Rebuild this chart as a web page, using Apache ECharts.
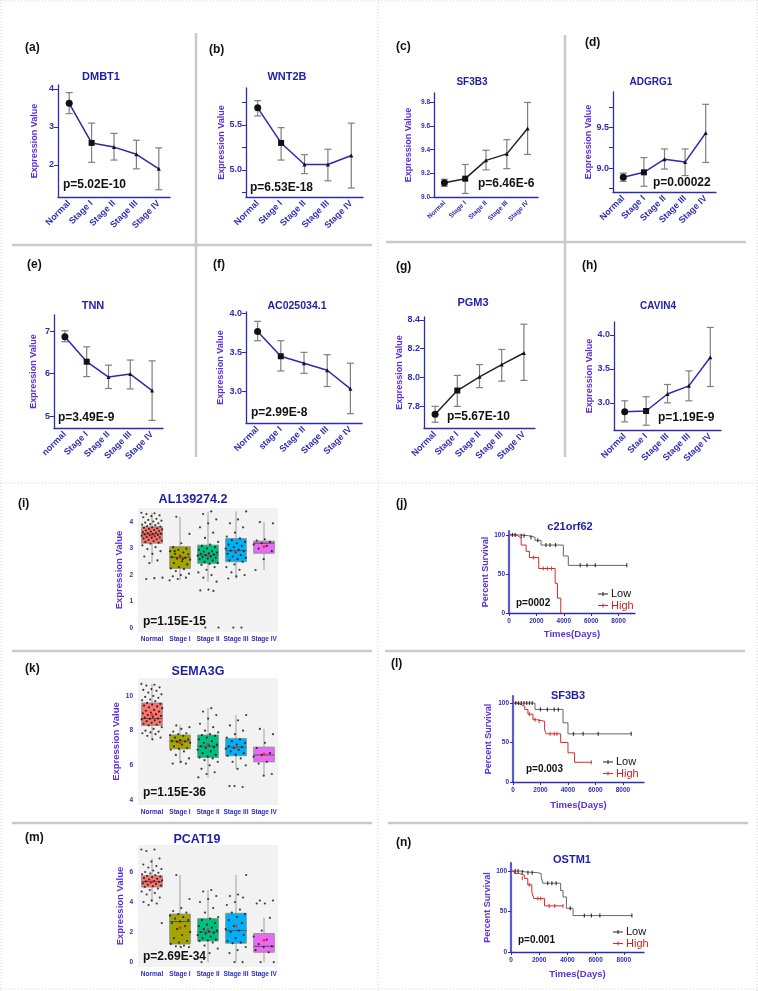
<!DOCTYPE html>
<html>
<head>
<meta charset="utf-8">
<script src="https://cdn.jsdelivr.net/npm/echarts@6/dist/echarts.min.js"></script>
<style>
  html, body { margin: 0; padding: 0; background: #fff; }
  #chart { width: 758px; height: 991px; }
</style>
</head>
<body>
<div id="chart"></div>
<script>
// ---- categories ----
var stageCats = ["Normal", "Stage I", "Stage II", "Stage III", "Stage IV"];
var tnnCats = ["normal", "Stage I", "Stage II", "Stage III", "Stage IV"];
var ac0Cats = ["Normal", "stage I", "Stage II", "Stage III", "Stage IV"];
var cavinCats = ["Normal", "Stae I", "Stage III", "Stage III", "Stage IV"];

// ---- line panels: mean, lower and upper error bar ----
var dmbt1Mean = [3.62, 2.58, 2.47, 2.28, 1.90];
var dmbt1Lo = [3.35, 2.07, 2.13, 1.90, 1.35];
var dmbt1Hi = [3.90, 3.10, 2.83, 2.65, 2.45];

var wnt2bMean = [5.69, 5.30, 5.06, 5.06, 5.16];
var wnt2bLo = [5.60, 5.11, 4.96, 4.88, 4.80];
var wnt2bHi = [5.77, 5.47, 5.17, 5.23, 5.52];

var sf3b3Mean = [9.12, 9.155, 9.31, 9.365, 9.58];
var sf3b3Lo = [9.09, 9.03, 9.23, 9.24, 9.36];
var sf3b3Hi = [9.15, 9.275, 9.395, 9.485, 9.80];

var adgrg1Mean = [8.89, 8.95, 9.11, 9.075, 9.43];
var adgrg1Lo = [8.84, 8.78, 8.99, 8.91, 9.07];
var adgrg1Hi = [8.94, 9.13, 9.235, 9.235, 9.78];

var tnnMean = [6.87, 6.28, 5.92, 5.99, 5.60];
var tnnLo = [6.75, 5.93, 5.65, 5.64, 4.90];
var tnnHi = [7.01, 6.63, 6.20, 6.32, 6.30];

var ac0Mean = [3.77, 3.45, 3.36, 3.27, 3.03];
var ac0Lo = [3.65, 3.26, 3.23, 3.06, 2.71];
var ac0Hi = [3.90, 3.65, 3.50, 3.47, 3.36];

var pgm3Mean = [7.745, 7.91, 8.005, 8.09, 8.17];
var pgm3Lo = [7.69, 7.80, 7.93, 7.975, 7.98];
var pgm3Hi = [7.80, 8.015, 8.09, 8.195, 8.37];

var cavin4Mean = [2.87, 2.88, 3.13, 3.25, 3.67];
var cavin4Lo = [2.72, 2.67, 3.00, 3.03, 3.24];
var cavin4Hi = [3.03, 3.09, 3.27, 3.47, 4.11];

// ---- box panels: [min, q1, median, q3, max], means, points ----
var al1Boxes = [[2.45, 3.2, 3.55, 3.82, 4.35], [1.8, 2.25, 2.67, 3.07, 4.2], [1.75, 2.44, 2.75, 3.13, 4.4], [1.87, 2.5, 2.92, 3.38, 4.4], [2.19, 2.82, 3.2, 3.28, 4.0]];
var al1Means = [3.5, 2.65, 2.72, 2.9, 3.08];
var al1Normal = [4.35, 4.33, 4.3, 4.25, 4.22, 4.18, 4.12, 4.08, 4.05, 4.02, 3.98, 3.95, 3.92, 3.9, 3.88, 3.85, 3.83, 3.8, 3.78, 3.76, 3.74, 3.72, 3.7, 3.68, 3.66, 3.64, 3.62, 3.6, 3.58, 3.56, 3.55, 3.53, 3.51, 3.5, 3.48, 3.46, 3.44, 3.42, 3.4, 3.38, 3.35, 3.33, 3.3, 3.28, 3.25, 3.22, 3.18, 3.12, 3.05, 2.98, 2.9, 2.8, 2.7, 2.55, 2.45, 1.9, 1.88, 1.85];
var al1S1 = [4.2, 3.55, 3.2, 3.05, 3.0, 2.95, 2.9, 2.85, 2.8, 2.78, 2.72, 2.68, 2.65, 2.62, 2.58, 2.52, 2.45, 2.4, 2.3, 2.25, 2.22, 2.15, 2.05, 2.0, 1.95, 1.9, 1.85, 1.8, 2.6, 2.9];
var al1S2 = [4.4, 4.3, 4.1, 3.95, 3.8, 3.6, 3.4, 3.25, 3.15, 3.1, 3.05, 3.0, 2.95, 2.9, 2.88, 2.85, 2.82, 2.8, 2.78, 2.75, 2.73, 2.7, 2.68, 2.65, 2.62, 2.6, 2.55, 2.5, 2.45, 2.42, 2.38, 2.3, 2.2, 2.1, 2.0, 1.9, 1.75, 1.45, 1.42, 1.4, 0.02, 0.02];
var al1S3 = [4.4, 4.1, 3.95, 3.8, 3.6, 3.45, 3.38, 3.32, 3.25, 3.2, 3.15, 3.1, 3.05, 3.0, 2.95, 2.92, 2.9, 2.85, 2.8, 2.75, 2.7, 2.65, 2.6, 2.55, 2.5, 2.4, 2.3, 2.2, 2.1, 2.0, 1.95, 1.87, 0.02, 0.02];
var al1S4 = [4.0, 3.95, 3.35, 3.3, 3.25, 3.2, 3.15, 3.1, 3.0, 2.9, 2.6, 2.19];

var semaBoxes = [[7.5, 8.3, 8.7, 9.6, 10.7], [6.1, 6.95, 7.4, 7.75, 8.3], [5.3, 6.45, 7.1, 7.75, 9.3], [5.8, 6.55, 7.05, 7.55, 8.9], [5.4, 6.2, 6.6, 7.05, 8.1]];
var semaMeans = [8.9, 7.3, 7.2, 7.05, 6.65];
var semaNormal = [10.7, 10.65, 10.6, 10.5, 10.4, 10.35, 10.3, 10.2, 10.1, 10.0, 9.95, 9.9, 9.8, 9.75, 9.7, 9.6, 9.55, 9.5, 9.45, 9.4, 9.35, 9.3, 9.2, 9.15, 9.1, 9.05, 9.0, 8.95, 8.9, 8.85, 8.8, 8.75, 8.7, 8.68, 8.65, 8.6, 8.55, 8.5, 8.45, 8.4, 8.35, 8.3, 8.2, 8.1, 8.0, 7.95, 7.9, 7.85, 7.8, 7.7, 7.6, 7.5];
var semaS1 = [8.3, 8.2, 8.1, 7.95, 7.85, 7.8, 7.75, 7.7, 7.6, 7.5, 7.45, 7.4, 7.38, 7.35, 7.3, 7.2, 7.1, 7.0, 6.95, 6.9, 6.8, 6.6, 6.4, 6.2, 6.1, 6.1];
var semaS2 = [9.3, 9.1, 8.9, 8.7, 8.4, 8.2, 8.0, 7.9, 7.8, 7.75, 7.7, 7.6, 7.5, 7.4, 7.3, 7.2, 7.15, 7.1, 7.05, 7.0, 6.9, 6.8, 6.7, 6.6, 6.5, 6.45, 6.4, 6.3, 6.2, 6.0, 5.8, 5.6, 5.5, 5.3];
var semaS3 = [8.9, 8.6, 8.3, 8.0, 7.8, 7.6, 7.5, 7.4, 7.3, 7.2, 7.1, 7.05, 7.0, 6.95, 6.9, 6.8, 6.7, 6.6, 6.55, 6.4, 6.2, 6.0, 5.8, 4.8, 4.75, 4.8];
var semaS4 = [8.1, 7.8, 7.3, 7.0, 6.7, 6.6, 6.5, 6.2, 6.1, 5.5, 5.4];

var pcatBoxes = [[4.0, 5.0, 5.35, 5.75, 6.9], [1.0, 1.2, 2.7, 3.2, 5.8], [0, 1.4, 2.0, 2.9, 4.8], [0, 1.25, 2.1, 3.25, 5.8], [0, 0.65, 1.05, 1.9, 2.95]];
var pcatMeans = [5.35, 2.3, 2.15, 2.4, 1.45];
var pcatNormal = [7.5, 7.5, 7.4, 6.9, 6.7, 6.5, 6.4, 6.3, 6.2, 6.1, 6.0, 5.95, 5.9, 5.85, 5.8, 5.75, 5.7, 5.65, 5.6, 5.55, 5.5, 5.45, 5.4, 5.38, 5.35, 5.3, 5.25, 5.2, 5.15, 5.1, 5.05, 5.0, 4.9, 4.8, 4.7, 4.6, 4.5, 4.3, 4.1, 4.0, 3.9, 3.8, 2.6];
var pcatS1 = [5.8, 4.2, 3.6, 3.4, 3.3, 3.2, 3.1, 3.0, 2.9, 2.8, 2.7, 2.6, 2.4, 2.2, 2.0, 1.8, 1.6, 1.4, 1.3, 1.2, 1.1, 1.05, 1.0, 1.0];
var pcatS2 = [4.8, 4.7, 4.4, 4.2, 4.0, 3.6, 3.3, 3.0, 2.9, 2.8, 2.6, 2.5, 2.4, 2.3, 2.2, 2.1, 2.05, 2.0, 1.95, 1.9, 1.8, 1.7, 1.6, 1.5, 1.45, 1.4, 1.3, 1.1, 0.9, 0.6, 0.0];
var pcatS3 = [5.8, 4.5, 4.4, 4.3, 4.0, 3.8, 3.5, 3.3, 3.2, 3.0, 2.8, 2.6, 2.4, 2.2, 2.1, 2.0, 1.8, 1.6, 1.4, 1.3, 1.25, 1.0, 0.8, 0.6, 0.0, 0.0];
var pcatS4 = [4.1, 4.1, 3.9, 3.9, 2.95, 2.1, 1.7, 1.5, 1.2, 1.05, 1.0, 0.8, 0.65, 0.0, 0.0];

// ---- survival curves: [days, percent] at each step ----
var c21Low = [[0, 100], [700, 99], [1400, 97], [1900, 93], [2340, 87], [3970, 73], [4330, 61], [8600, 61]];
var c21High = [[0, 100], [500, 98], [720, 96], [890, 87], [1250, 79], [1490, 71], [2170, 57], [3370, 38], [3540, 19], [3780, 0]];
var c21LowCens = [[250, 100], [450, 100], [900, 99], [1100, 99], [1600, 97], [2100, 93], [2700, 87], [3000, 87], [3400, 87], [5200, 61], [5700, 61], [6300, 61], [8600, 61]];
var c21HighCens = [[1800, 71], [2500, 57], [2800, 57], [3100, 57]];

var sf3Low = [[0, 100], [1600, 92], [3640, 75], [4000, 61], [8600, 61]];
var sf3High = [[0, 100], [360, 98], [600, 96], [850, 92], [1090, 86], [1450, 79], [1700, 77], [2300, 66], [2420, 61], [3470, 50], [4000, 37], [4480, 25], [5700, 25]];
var sf3LowCens = [[200, 100], [400, 100], [600, 100], [800, 100], [1000, 100], [1200, 100], [1400, 100], [2000, 92], [2500, 92], [3000, 92], [3300, 92], [4400, 61], [5100, 61], [6200, 61], [8600, 61]];
var sf3HighCens = [[1200, 86], [1600, 79], [1900, 77], [2700, 61], [3000, 61], [3200, 61], [5700, 25]];

var ostLow = [[0, 100], [700, 99], [1000, 98], [1900, 97], [2140, 93], [2260, 85], [3520, 76], [3690, 68], [3930, 54], [4400, 45], [8570, 45]];
var ostHigh = [[0, 100], [240, 97], [600, 95], [950, 91], [1190, 83], [1480, 74], [1620, 66], [2380, 57], [3690, 57]];
var ostLowCens = [[300, 100], [500, 100], [800, 99], [1200, 98], [1500, 98], [2600, 85], [2900, 85], [3200, 85], [4200, 54], [5200, 45], [5700, 45], [6300, 45], [8570, 45]];
var ostHighCens = [[800, 91], [1300, 83], [1900, 66], [2100, 66], [2700, 57], [3100, 57], [3690, 57]];

var FONT = 'Arial, "Liberation Sans", sans-serif';
var TITLE_C = "#1e1ea8", TICK_C = "#2e2eb4", NAME_C = "#5a30d8", AXIS_C = "#2c2cb0";
var BOX_COLORS = ["#F8766D", "#A3A500", "#00BF7D", "#00B0F6", "#E76BF3"];

var grids = [], xAxes = [], yAxes = [], series = [], graphic = [];

function text(x, y, s, font, fill, align) {
    graphic.push({ type: "text", x: x, y: y, silent: true, z: 10,
        style: { text: s, font: font, fill: fill || "#111", textAlign: align || "left", textVerticalAlign: "middle" } });
}
function seg(x1, y1, x2, y2, color, w, dash) {
    graphic.push({ type: "line", silent: true, z: 0,
        shape: { x1: x1, y1: y1, x2: x2, y2: y2 },
        style: { stroke: color, lineWidth: w, lineDash: dash || null } });
}
function addGrid(r, extra) {
    grids.push(Object.assign({ left: r[0], top: r[1], width: r[2] - r[0], height: r[3] - r[1] }, extra || {}));
    return grids.length - 1;
}

function errRender(params, api) {
    var x = api.value(0);
    var a = api.coord([x, api.value(1)]);
    var b = api.coord([x, api.value(2)]);
    var w = 3.5, st = { stroke: "#7f7f7f", lineWidth: 1.2 };
    return { type: "group", children: [
        { type: "line", shape: { x1: a[0], y1: a[1], x2: b[0], y2: b[1] }, style: st },
        { type: "line", shape: { x1: a[0] - w, y1: a[1], x2: a[0] + w, y2: a[1] }, style: st },
        { type: "line", shape: { x1: b[0] - w, y1: b[1], x2: b[0] + w, y2: b[1] }, style: st }
    ] };
}

function linePanel(p) {
    var gi = addGrid(p.rect);
    var fs = p.fs || 9;
    xAxes.push({ type: "category", gridIndex: gi, data: p.cats, boundaryGap: true,
        axisLine: { onZero: false, lineStyle: { color: AXIS_C, width: 1.3 } },
        axisTick: { alignWithLabel: true, length: 4, lineStyle: { color: AXIS_C } },
        axisLabel: { rotate: 45, interval: 0, color: TICK_C, fontWeight: "bold", fontSize: fs, fontFamily: FONT, margin: 5 },
        splitLine: { show: false } });
    var xi = xAxes.length - 1;
    yAxes.push({ type: "value", gridIndex: gi, min: p.yMin, max: p.yMax,
        axisLine: { show: true, onZero: false, lineStyle: { color: AXIS_C, width: 1.3 } },
        axisTick: { show: true, length: 4, customValues: p.ticks, lineStyle: { color: AXIS_C } },
        axisLabel: { customValues: p.labels || p.ticks, formatter: function (v) { return (+v).toFixed(p.dec); },
            color: TICK_C, fontWeight: "bold", fontSize: fs, fontFamily: FONT, margin: 4 },
        splitLine: { show: false },
        name: "Expression Value", nameLocation: "middle", nameGap: p.nameGap,
        nameTextStyle: { color: NAME_C, fontWeight: "bold", fontSize: 9, fontFamily: FONT } });
    var yi = yAxes.length - 1;
    series.push({ type: "custom", xAxisIndex: xi, yAxisIndex: yi, silent: true, z: 2,
        data: p.lo.map(function (l, i) { return [i, l, p.hi[i]]; }), renderItem: errRender });
    series.push({ type: "line", xAxisIndex: xi, yAxisIndex: yi, silent: true, z: 3,
        data: p.mean.map(function (v, i) {
            return { value: v, symbol: i === 0 ? "circle" : (i === 1 ? "rect" : "triangle"), symbolSize: i === 0 ? 7 : (i === 1 ? 6 : 4) };
        }),
        lineStyle: { color: p.color, width: 1.5 }, itemStyle: { color: "#111" } });
    text(p.title[0], p.title[1], p.name, "bold " + p.tfs + "px " + FONT, TITLE_C, "center");
    text(p.tag[0], p.tag[1], p.tag[2], "bold 12px " + FONT, "#111");
    text(p.pv[0], p.pv[1], p.pv[2], "bold 12px " + FONT, "#111");
}

function boxRender(params, api) {
    var i = api.value(0);
    var lo = api.coord([i, api.value(1)]), q1 = api.coord([i, api.value(2)]), md = api.coord([i, api.value(3)]);
    var q3 = api.coord([i, api.value(4)]), hi = api.coord([i, api.value(5)]);
    var half = api.size([1, 0])[0] * 0.37;
    var x = lo[0];
    return { type: "group", children: [
        { type: "line", shape: { x1: x, y1: hi[1], x2: x, y2: q3[1] }, style: { stroke: "#a0a0a0", lineWidth: 1 } },
        { type: "line", shape: { x1: x, y1: q1[1], x2: x, y2: lo[1] }, style: { stroke: "#a0a0a0", lineWidth: 1 } },
        { type: "rect", shape: { x: x - half, y: q3[1], width: half * 2, height: q1[1] - q3[1] },
            style: { fill: BOX_COLORS[i], stroke: "#8a8a8a", lineWidth: 0.8 } },
        { type: "line", shape: { x1: x - half, y1: md[1], x2: x + half, y2: md[1] }, style: { stroke: "#555", lineWidth: 1 } }
    ] };
}

// spread of the jittered points around each group centre
function jitter(k) {
    return (((k * 0.6180339887) % 1) - 0.5) * 0.76;
}

function boxPanel(p) {
    var gi = addGrid(p.rect, { show: true, backgroundColor: "#f2f2f2", borderWidth: 0 });
    // one value axis: groups sit at 0..4, labels are the stage names
    xAxes.push({ type: "value", gridIndex: gi, min: -0.5, max: 4.5,
        axisLine: { show: false, onZero: false }, axisTick: { show: false },
        axisLabel: { customValues: [0, 1, 2, 3, 4], formatter: function (v) { return stageCats[Math.round(v)]; },
            color: TICK_C, fontWeight: "bold", fontSize: 6.5, fontFamily: FONT, margin: 4 },
        splitLine: { show: false } });
    var xv = xAxes.length - 1;
    yAxes.push({ type: "value", gridIndex: gi, min: p.yMin, max: p.yMax,
        axisLine: { show: false, onZero: false },
        axisTick: { show: false },
        axisLabel: { customValues: p.ticks, color: TICK_C, fontWeight: "bold", fontSize: 6.5, fontFamily: FONT, margin: 5 },
        splitLine: { show: false },
        name: "Expression Value", nameLocation: "middle", nameGap: p.nameGap,
        nameTextStyle: { color: NAME_C, fontWeight: "bold", fontSize: 9.5, fontFamily: FONT } });
    var yi = yAxes.length - 1;
    series.push({ type: "custom", xAxisIndex: xv, yAxisIndex: yi, silent: true, z: 2,
        data: p.boxes.map(function (b, i) { return [i].concat(b); }), renderItem: boxRender });
    var pts = [];
    p.points.forEach(function (arr, g) {
        arr.forEach(function (v, k) { pts.push([g + jitter(k + g * 7), v]); });
    });
    series.push({ type: "scatter", xAxisIndex: xv, yAxisIndex: yi, silent: true, z: 3,
        data: pts, symbolSize: 2.2, itemStyle: { color: "#111" } });
    series.push({ type: "scatter", xAxisIndex: xv, yAxisIndex: yi, silent: true, z: 4,
        data: p.means.map(function (m, i) { return [i, m]; }), symbolSize: 3, itemStyle: { color: "#ff1a1a" } });
    text(p.title[0], p.title[1], p.name, "bold 12.5px " + FONT, TITLE_C, "center");
    text(p.tag[0], p.tag[1], p.tag[2], "bold 12px " + FONT, "#111");
    text(p.pv[0], p.pv[1], p.pv[2], "bold 12px " + FONT, "#111");
}

function kmPanel(p) {
    var gi = addGrid(p.rect);
    var xt = [0, 2000, 4000, 6000, 8000];
    xAxes.push({ type: "value", gridIndex: gi, min: 0, max: p.xMax,
        axisLine: { show: true, onZero: false, lineStyle: { color: AXIS_C, width: 1.3 } },
        axisTick: { show: true, length: 3, customValues: xt, lineStyle: { color: AXIS_C } },
        axisLabel: { customValues: xt, formatter: function (v) { return String(v); },
            color: TICK_C, fontWeight: "bold", fontSize: 6.5, fontFamily: FONT, margin: 5 },
        splitLine: { show: false },
        name: "Times(Days)", nameLocation: "middle", nameGap: p.xGap,
        nameTextStyle: { color: NAME_C, fontWeight: "bold", fontSize: 9.5, fontFamily: FONT } });
    var xi = xAxes.length - 1;
    yAxes.push({ type: "value", gridIndex: gi, min: 0, max: p.yMax,
        axisLine: { show: true, onZero: false, lineStyle: { color: "#5a5ad2", width: 2.2 } },
        axisTick: { show: true, length: 3, customValues: [0, 50, 100], lineStyle: { color: AXIS_C } },
        axisLabel: { customValues: [0, 50, 100], color: TICK_C, fontWeight: "bold", fontSize: 6.5, fontFamily: FONT, margin: 4 },
        splitLine: { show: false },
        name: "Percent Survival", nameLocation: "middle", nameGap: p.yGap,
        nameTextStyle: { color: NAME_C, fontWeight: "bold", fontSize: 9, fontFamily: FONT } });
    var yi = yAxes.length - 1;
    series.push({ type: "line", step: "end", xAxisIndex: xi, yAxisIndex: yi, silent: true, z: 2,
        data: p.low, symbol: "none", lineStyle: { color: "#666", width: 1 } });
    series.push({ type: "line", step: "end", xAxisIndex: xi, yAxisIndex: yi, silent: true, z: 3,
        data: p.high, symbol: "none", lineStyle: { color: "#d42a2a", width: 1 } });
    series.push({ type: "scatter", xAxisIndex: xi, yAxisIndex: yi, silent: true, z: 4,
        data: p.lowCens, symbol: "rect", symbolSize: [1.2, 4], itemStyle: { color: "#111" } });
    series.push({ type: "scatter", xAxisIndex: xi, yAxisIndex: yi, silent: true, z: 4,
        data: p.highCens, symbol: "rect", symbolSize: [1.2, 4], itemStyle: { color: "#d42a2a" } });
    // legend
    var lx = p.leg[0], ly = p.leg[1];
    seg(lx, ly, lx + 10, ly, "#222", 1);
    seg(lx + 5, ly - 2, lx + 5, ly + 2, "#222", 1);
    text(lx + 13, ly, "Low", "11px " + FONT, "#111");
    seg(lx, ly + 11.5, lx + 10, ly + 11.5, "#d42a2a", 1);
    seg(lx + 5, ly + 9.5, lx + 5, ly + 13.5, "#d42a2a", 1);
    text(lx + 13, ly + 11.5, "High", "11px " + FONT, "#cc1f1f");
    text(p.title[0], p.title[1], p.name, "bold 11px " + FONT, TITLE_C, "center");
    text(p.tag[0], p.tag[1], p.tag[2], "bold 12px " + FONT, "#111");
    text(p.pv[0], p.pv[1], p.pv[2], "bold 10px " + FONT, "#111");
}

// ---- frame and separators ----
var DOT = "#d6d6d6", SEP = "#c9c9c9";
seg(0, 1, 758, 1, DOT, 1, [1, 2]);
seg(0, 989, 758, 989, DOT, 1, [1, 2]);
seg(1, 0, 1, 991, DOT, 1, [1, 2]);
seg(757, 0, 757, 991, DOT, 1, [1, 2]);
seg(378, 0, 378, 991, DOT, 1, [1, 2]);
seg(0, 483, 758, 483, DOT, 1, [1, 2]);
seg(196, 33, 196, 457, SEP, 2.5);
seg(565, 35, 565, 457, SEP, 2.5);
seg(12, 245, 372, 245, SEP, 2.5);
seg(386, 242, 746, 242, SEP, 2.5);
seg(12, 651, 372, 651, SEP, 2.5);
seg(385, 651, 745, 651, SEP, 2.5);
seg(12, 823, 372, 823, SEP, 2.5);
seg(388, 823, 748, 823, SEP, 2.5);

// ---- line panels ----
linePanel({ rect: [58, 85, 170, 197], cats: stageCats, mean: dmbt1Mean, lo: dmbt1Lo, hi: dmbt1Hi,
    yMin: 1.16, yMax: 4.1, ticks: [2, 3, 4], dec: 0, color: "#2a2aa0", nameGap: 19,
    name: "DMBT1", tfs: 11, title: [101, 77], tag: [25, 48, "(a)"], pv: [63, 185, "p=5.02E-10"] });
linePanel({ rect: [246, 88, 363, 197], cats: stageCats, mean: wnt2bMean, lo: wnt2bLo, hi: wnt2bHi,
    yMin: 4.7, yMax: 5.91, ticks: [4.75, 5, 5.25, 5.5, 5.75], labels: [5, 5.5], dec: 1, color: "#2a2ab8", nameGap: 20,
    name: "WNT2B", tfs: 11, title: [287, 77], tag: [209, 50, "(b)"], pv: [250, 188, "p=6.53E-18"] });
linePanel({ rect: [434, 93, 538, 197], cats: stageCats, mean: sf3b3Mean, lo: sf3b3Lo, hi: sf3b3Hi,
    yMin: 9.0, yMax: 9.88, ticks: [9.0, 9.2, 9.4, 9.6, 9.8], dec: 1, color: "#222", fs: 6.5, nameGap: 21,
    name: "SF3B3", tfs: 10, title: [472, 82], tag: [396, 47, "(c)"], pv: [478, 184, "p=6.46E-6"] });
linePanel({ rect: [613, 92, 716, 192], cats: stageCats, mean: adgrg1Mean, lo: adgrg1Lo, hi: adgrg1Hi,
    yMin: 8.71, yMax: 9.93, ticks: [8.75, 9, 9.25, 9.5, 9.75], labels: [9, 9.5], dec: 1, color: "#2a2ab8", nameGap: 19,
    name: "ADGRG1", tfs: 10, title: [651, 82], tag: [585, 43, "(d)"], pv: [653, 183, "p=0.00022"] });
linePanel({ rect: [54, 315, 163, 428], cats: tnnCats, mean: tnnMean, lo: tnnLo, hi: tnnHi,
    yMin: 4.72, yMax: 7.38, ticks: [5, 6, 7], dec: 0, color: "#2a2ab8", nameGap: 16,
    name: "TNN", tfs: 11, title: [93, 306], tag: [27, 265, "(e)"], pv: [58, 418, "p=3.49E-9"] });
linePanel({ rect: [246, 312, 362, 423], cats: ac0Cats, mean: ac0Mean, lo: ac0Lo, hi: ac0Hi,
    yMin: 2.59, yMax: 4.02, ticks: [3.0, 3.5, 4.0], dec: 1, color: "#2a2ab8", nameGap: 21,
    name: "AC025034.1", tfs: 10.5, title: [297, 306], tag: [213, 265, "(f)"], pv: [251, 413, "p=2.99E-8"] });
linePanel({ rect: [424, 317, 535, 428], cats: stageCats, mean: pgm3Mean, lo: pgm3Lo, hi: pgm3Hi,
    yMin: 7.65, yMax: 8.42, ticks: [7.8, 8.0, 8.2, 8.4], dec: 1, color: "#222", nameGap: 16,
    name: "PGM3", tfs: 11, title: [473, 303], tag: [396, 267, "(g)"], pv: [447, 417, "p=5.67E-10"] });
linePanel({ rect: [614, 322, 721, 430], cats: cavinCats, mean: cavin4Mean, lo: cavin4Lo, hi: cavin4Hi,
    yMin: 2.6, yMax: 4.19, ticks: [3.0, 3.5, 4.0], dec: 1, color: "#2a2ab8", nameGap: 20,
    name: "CAVIN4", tfs: 10, title: [658, 306], tag: [582, 266, "(h)"], pv: [658, 418, "p=1.19E-9"] });

// ---- box panels ----
boxPanel({ rect: [138, 508, 278, 632], boxes: al1Boxes, means: al1Means,
    points: [al1Normal, al1S1, al1S2, al1S3, al1S4], yMin: -0.15, yMax: 4.53, ticks: [0, 1, 2, 3, 4], nameGap: 14,
    name: "AL139274.2", title: [193, 500], tag: [18, 504, "(i)"], pv: [143, 622, "p=1.15E-15"] });
boxPanel({ rect: [138, 678, 278, 805], boxes: semaBoxes, means: semaMeans,
    points: [semaNormal, semaS1, semaS2, semaS3, semaS4], yMin: 3.71, yMax: 11.04, ticks: [4, 6, 8, 10], nameGap: 14,
    name: "SEMA3G", title: [198, 672], tag: [25, 669, "(k)"], pv: [143, 793, "p=1.15E-36"] });
boxPanel({ rect: [138, 845, 278, 967], boxes: pcatBoxes, means: pcatMeans,
    points: [pcatNormal, pcatS1, pcatS2, pcatS3, pcatS4], yMin: -0.33, yMax: 7.8, ticks: [0, 2, 4, 6], nameGap: 11,
    name: "PCAT19", title: [197, 840], tag: [25, 838, "(m)"], pv: [143, 957, "p=2.69E-34"] });

// ---- survival panels ----
kmPanel({ rect: [509, 531, 635, 613], xMax: 9200, yMax: 105, low: c21Low, high: c21High,
    lowCens: c21LowCens, highCens: c21HighCens, xGap: 16, yGap: 19, leg: [598, 594],
    name: "c21orf62", title: [570, 527], tag: [396, 504, "(j)"], pv: [516, 603, "p=0002"] });
kmPanel({ rect: [513, 696, 644, 782], xMax: 9530, yMax: 109, low: sf3Low, high: sf3High,
    lowCens: sf3LowCens, highCens: sf3HighCens, xGap: 18, yGap: 20, leg: [603, 762],
    name: "SF3B3", title: [568, 696], tag: [391, 664, "(l)"], pv: [526, 769, "p=0.003"] });
kmPanel({ rect: [511, 863, 644, 952], xMax: 9430, yMax: 110, low: ostLow, high: ostHigh,
    lowCens: ostLowCens, highCens: ostHighCens, xGap: 17, yGap: 18, leg: [613, 932],
    name: "OSTM1", title: [572, 860], tag: [396, 843, "(n)"], pv: [518, 940, "p=0.001"] });

var myChart = echarts.init(document.getElementById("chart"), null, { renderer: "canvas" });
var option = {
    backgroundColor: "#fff",
    animation: false,
    textStyle: { fontFamily: FONT },
    grid: grids,
    xAxis: xAxes,
    yAxis: yAxes,
    series: series,
    graphic: graphic
};
myChart.setOption(option);
</script>
</body>
</html>
